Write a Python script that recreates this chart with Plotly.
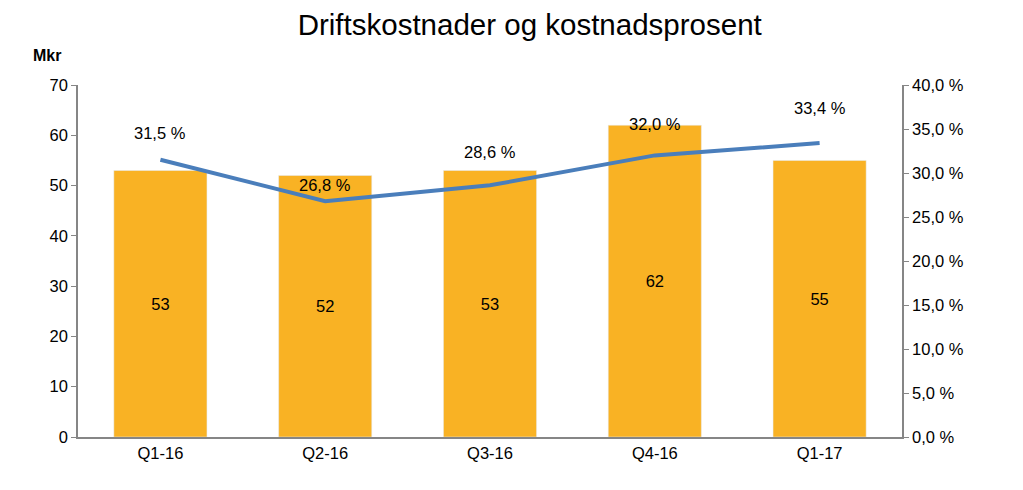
import plotly.graph_objects as go

categories = ["Q1-16", "Q2-16", "Q3-16", "Q4-16", "Q1-17"]
costs = [53, 52, 53, 62, 55]
cost_pct = [31.5, 26.8, 28.6, 32.0, 33.4]
left_ticks = [0, 10, 20, 30, 40, 50, 60, 70]
right_ticks = [0, 5, 10, 15, 20, 25, 30, 35, 40]
right_tick_labels = ["0,0 %", "5,0 %", "10,0 %", "15,0 %", "20,0 %", "25,0 %", "30,0 %", "35,0 %", "40,0 %"]
pct_label_shift = [27, 16, 33, 31, 35]

FONT = "Liberation Sans, Arial, sans-serif"
AXIS_COLOR = "#868686"
FS = 16.5

L, R, T, B = 70, 129, 77, 61
W, H = 1023, 490

fig = go.Figure()
fig.add_trace(go.Bar(
    x=categories, y=costs, marker_color="#F9B224", width=0.565,
    text=[str(v) for v in costs], textposition="inside", insidetextanchor="middle",
    textfont=dict(family=FONT, size=FS, color="black"), showlegend=False,
))
fig.add_trace(go.Scatter(
    x=categories, y=cost_pct, mode="lines", yaxis="y2",
    line=dict(color="#4A7EBB", width=4), showlegend=False,
))

annotations = []
for c, p, s in zip(categories, cost_pct, pct_label_shift):
    annotations.append(dict(
        x=c, y=p, xref="x", yref="y2", text=f"{p:.1f}".replace(".", ",") + " %",
        showarrow=False, yshift=s, font=dict(family=FONT, size=FS, color="black"),
    ))
annotations.append(dict(
    x=(38.5 - L) / (W - L - R), y=(H - B - 47) / (H - T - B),
    xref="paper", yref="paper", text="<b>Mkr</b>", xanchor="center", yanchor="middle",
    showarrow=False, font=dict(family=FONT, size=16, color="black"),
))

fig.update_layout(
    width=W, height=H,
    margin=dict(l=L, r=R, t=T, b=B),
    paper_bgcolor="white", plot_bgcolor="white",
    font=dict(family=FONT, size=FS, color="black"),
    title=dict(text="Driftskostnader og kostnadsprosent", x=0.510, xanchor="center",
               y=0.988, yanchor="top", pad=dict(t=0, b=0),
               font=dict(family=FONT, size=29.5, color="black")),
    xaxis=dict(showline=True, linecolor=AXIS_COLOR, linewidth=1.5, ticks="",
               tickfont=dict(family=FONT, size=FS), showgrid=False),
    yaxis=dict(range=[0, 70], tickvals=left_ticks, showline=True, linecolor=AXIS_COLOR,
               linewidth=1.5, ticks="outside", ticklen=5, tickcolor=AXIS_COLOR,
               showgrid=False, zeroline=False, tickfont=dict(family=FONT, size=FS)),
    yaxis2=dict(range=[0, 40], tickvals=right_ticks, ticktext=right_tick_labels,
                overlaying="y", side="right", showline=True, linecolor=AXIS_COLOR,
                linewidth=1.5, ticks="outside", ticklen=5, tickcolor=AXIS_COLOR,
                showgrid=False, zeroline=False, tickfont=dict(family=FONT, size=FS)),
    annotations=annotations,
)

fig.write_html("out.html")
